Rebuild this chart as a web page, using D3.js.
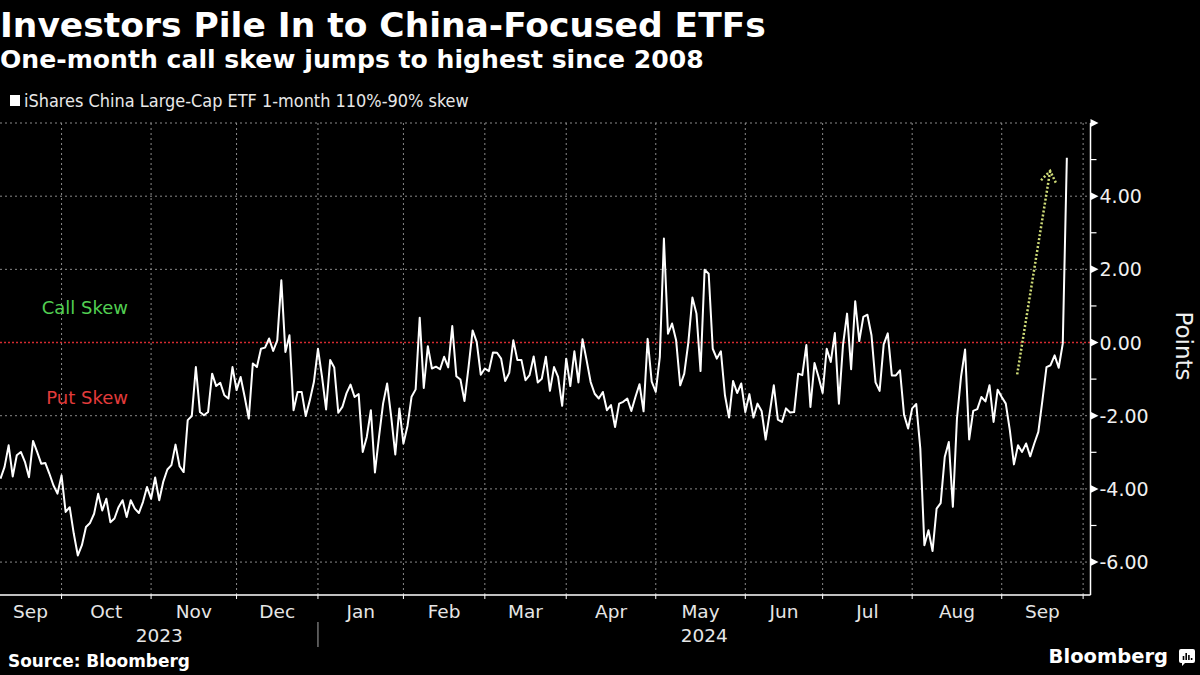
<!DOCTYPE html>
<html>
<head>
<meta charset="utf-8">
<script src="https://cdn.jsdelivr.net/npm/d3@7"></script>
<style>
  html, body { margin: 0; padding: 0; background: #000; }
  svg { display: block; }
</style>
</head>
<body>
<svg id="chart" width="1200" height="675"></svg>
<script>
// ---- Data (trading days from 2023-09-11 to 2024-09-25) ----
const skew = [
  -3.72,-3.40,-2.81,-3.66,-3.08,-2.99,-3.26,-3.68,-2.69,-2.99,
  -3.31,-3.29,-3.58,-3.90,-4.13,-3.63,-4.63,-4.50,-5.22,-5.82,
  -5.54,-5.04,-4.93,-4.68,-4.13,-4.59,-4.27,-4.91,-4.81,-4.50,
  -4.31,-4.77,-4.31,-4.54,-4.66,-4.36,-3.95,-4.27,-3.69,-4.31,
  -3.80,-3.47,-3.35,-2.79,-3.38,-3.54,-2.12,-2.01,-0.67,-1.90,
  -1.99,-1.90,-0.85,-1.19,-1.10,-1.44,-1.53,-0.67,-1.30,-0.94,
  -1.49,-2.08,-0.57,-0.67,-0.17,-0.14,0.11,-0.23,0.06,1.70,
  -0.26,0.20,-1.85,-1.35,-1.35,-2.01,-1.58,-1.08,-0.17,-0.94,
  -1.83,-0.48,-0.68,-1.92,-1.76,-1.39,-1.15,-1.49,-1.41,-2.99,
  -2.58,-1.85,-3.55,-2.58,-1.67,-1.12,-2.03,-3.06,-1.80,-2.76,
  -2.28,-1.48,-1.28,0.68,-1.24,-0.10,-0.71,-0.66,-0.73,-0.39,
  -0.68,0.45,-0.92,-1.01,-1.60,-0.67,0.33,0.02,-0.88,-0.71,
  -0.78,-0.27,-0.28,-0.44,-1.05,-0.83,0.06,-0.48,-0.48,-1.03,
  -0.89,-0.38,-1.09,-0.99,-0.39,-1.32,-0.67,-0.94,-1.73,-0.44,
  -1.19,-0.24,-1.09,0.09,-0.48,-1.08,-1.40,-1.53,-1.35,-1.85,
  -1.71,-2.31,-1.67,-1.62,-1.53,-1.87,-1.49,-1.14,-1.88,0.10,
  -1.07,-1.35,-0.39,2.84,0.24,0.52,0.06,-1.17,-0.85,0.00,
  1.23,0.79,-0.78,1.99,1.88,-0.17,-0.44,-0.24,-1.44,-2.05,
  -1.05,-1.38,-1.12,-1.90,-1.41,-2.05,-1.67,-1.87,-2.65,-1.92,
  -1.17,-2.11,-2.17,-1.80,-1.91,-1.90,-0.85,-0.89,-0.07,-1.76,
  -0.56,-0.94,-1.38,-0.17,-0.53,0.26,-1.67,-0.07,0.79,-0.73,
  1.13,0.04,0.70,0.76,0.20,-1.09,-1.32,-0.05,0.25,-0.90,
  -0.90,-0.76,-1.97,-2.35,-1.80,-1.68,-2.90,-5.54,-5.13,-5.70,
  -4.54,-4.39,-3.13,-2.72,-4.49,-2.08,-0.94,-0.19,-2.65,-1.87,
  -1.82,-1.49,-1.61,-1.17,-2.17,-1.29,-1.49,-1.67,-2.40,-3.33,
  -2.81,-2.99,-2.76,-3.11,-2.76,-2.44,-1.58,-0.67,-0.62,-0.35,
  -0.69,-0.03,5.05
];
const monthLabels = ["Sep","Oct","Nov","Dec","Jan","Feb","Mar","Apr","May","Jun","Jul","Aug","Sep"];
const tradingDaysPerMonth = [15,22,21,20,21,20,20,22,22,19,22,22,20];
const yearLabels = ["2023","2024"];
const monthsPerYear = [4, 9];
const yTickValues = [-6,-4,-2,0,2,4,6];
const yMinorValues = [-5,-3,-1,1,3,5];
const titleText = "Investors Pile In to China-Focused ETFs";
const subtitleText = "One-month call skew jumps to highest since 2008";
const legendText = "iShares China Large-Cap ETF 1-month 110%-90% skew";
const arrowFrom = {i: 249.8, v: -0.87};
const arrowTo = {i: 257.9, v: 4.69};

// ---- Layout ----
const svg = d3.select("#chart");
const plotLeft = 0, plotRight = 1090.5, plotTop = 123, plotBottom = 595;
const pxPerDay = 4.07;
const x = d3.scaleLinear().domain([0, (plotRight - 0.5) / pxPerDay]).range([0.5, plotRight]);
const y = d3.scaleLinear().domain([-6.9, 6]).range([plotBottom, plotTop]);

const monthStarts = d3.cumsum([0, ...tradingDaysPerMonth]);
const condensed = "'DejaVu Sans Condensed', 'DejaVu Sans', sans-serif";
const sans = "'DejaVu Sans', sans-serif";

// scale a text's font-size so it spans the target width
function fitWidth(sel, target) {
  const len = sel.node().getComputedTextLength();
  const fs = parseFloat(sel.attr("font-size"));
  if (len > 0) sel.attr("font-size", (fs * target / len).toFixed(2));
  return sel;
}

svg.append("rect").attr("width", 1200).attr("height", 675).attr("fill", "#000");

// Title & subtitle
fitWidth(svg.append("text").attr("x", 0).attr("y", 37).text(titleText)
  .attr("fill", "#fff").attr("font-family", sans).attr("font-weight", "bold").attr("font-size", 32), 766);
fitWidth(svg.append("text").attr("x", 0).attr("y", 68).text(subtitleText)
  .attr("fill", "#fff").attr("font-family", sans).attr("font-weight", "bold").attr("font-size", 24), 704);

// Legend
svg.append("rect").attr("x", 10).attr("y", 95).attr("width", 10).attr("height", 11).attr("fill", "#fff");
fitWidth(svg.append("text").attr("x", 24).attr("y", 106.5).text(legendText)
  .attr("fill", "#e8e8e8").attr("font-family", condensed).attr("font-size", 17), 445);

// Grid
const grid = svg.append("g");
grid.selectAll("line.h").data(yTickValues.filter(v => v !== 0)).join("line")
  .attr("x1", plotLeft).attr("x2", plotRight)
  .attr("y1", d => y(d)).attr("y2", d => y(d))
  .attr("stroke", "#8a8a8a").attr("stroke-width", 1).attr("stroke-dasharray", "2,3");
grid.selectAll("line.v").data(monthStarts.slice(1)).join("line")
  .attr("x1", d => x(d)).attr("x2", d => x(d))
  .attr("y1", plotTop).attr("y2", plotBottom)
  .attr("stroke", "#8a8a8a").attr("stroke-width", 1).attr("stroke-dasharray", "2,3");

// Zero line
svg.append("line").attr("x1", plotLeft).attr("x2", plotRight)
  .attr("y1", y(0)).attr("y2", y(0))
  .attr("stroke", "#d42a2f").attr("stroke-width", 1.6).attr("stroke-dasharray", "2,2");

// Call/Put annotations
svg.append("text").attr("x", 128).attr("y", y(0.94) + 6).attr("text-anchor", "end").text("Call Skew")
  .attr("fill", "#52cf52").attr("font-family", sans).attr("font-size", 18);
svg.append("text").attr("x", 128).attr("y", y(-1.5) + 7).attr("text-anchor", "end").text("Put Skew")
  .attr("fill", "#e23b3b").attr("font-family", sans).attr("font-size", 18);

// Series line
svg.append("path").datum(skew)
  .attr("d", d3.line().x((d, i) => x(i)).y(d => y(d)))
  .attr("fill", "none").attr("stroke", "#fff").attr("stroke-width", 2).attr("stroke-linejoin", "round");

// Annotation arrow
const ax1 = x(arrowFrom.i), ay1 = y(arrowFrom.v), ax2 = x(arrowTo.i), ay2 = y(arrowTo.v);
const ang = Math.atan2(ay1 - ay2, ax1 - ax2);
const headLen = 13, headAng = 35 * Math.PI / 180;
const arrowColor = "#cfdc78";
const arrowG = svg.append("g").attr("stroke", arrowColor).attr("stroke-width", 2.5)
  .attr("stroke-dasharray", "2,2").attr("fill", "none");
arrowG.append("line").attr("x1", ax1).attr("y1", ay1).attr("x2", ax2).attr("y2", ay2);
arrowG.append("path").attr("d",
  `M${ax2 + headLen * Math.cos(ang + headAng)},${ay2 + headLen * Math.sin(ang + headAng)}` +
  `L${ax2},${ay2}` +
  `L${ax2 + headLen * Math.cos(ang - headAng)},${ay2 + headLen * Math.sin(ang - headAng)}`);

// Right axis
svg.append("line").attr("x1", plotRight).attr("x2", plotRight).attr("y1", plotTop).attr("y2", plotBottom)
  .attr("stroke", "#fff").attr("stroke-width", 1.5);
svg.selectAll("path.ytick").data(yTickValues).join("path")
  .attr("d", d => `M${plotRight},${y(d) - 4}L${plotRight + 8},${y(d)}L${plotRight},${y(d) + 4}Z`)
  .attr("fill", "#fff");
svg.selectAll("line.yminor").data(yMinorValues).join("line")
  .attr("x1", plotRight).attr("x2", plotRight + 6).attr("y1", d => y(d)).attr("y2", d => y(d))
  .attr("stroke", "#fff").attr("stroke-width", 1.2);
svg.selectAll("text.ylab").data(yTickValues.filter(v => v < 6)).join("text")
  .attr("x", plotRight + 9).attr("y", d => y(d) + 7)
  .text(d => (d < 0 ? "-" : "") + d3.format(".2f")(Math.abs(d)))
  .attr("fill", "#f0f0f0").attr("font-family", sans).attr("font-size", 19);
svg.append("text").attr("transform", `translate(1176,${346}) rotate(90)`)
  .attr("text-anchor", "middle").text("Points")
  .attr("fill", "#f0f0f0").attr("font-family", sans).attr("font-size", 23);

// Bottom axis
svg.append("line").attr("x1", plotLeft).attr("x2", plotRight).attr("y1", plotBottom).attr("y2", plotBottom)
  .attr("stroke", "#fff").attr("stroke-width", 1.5);
svg.selectAll("line.xtick").data(monthStarts.slice(1)).join("line")
  .attr("x1", d => x(d)).attr("x2", d => x(d)).attr("y1", plotBottom).attr("y2", plotBottom + 4)
  .attr("stroke", "#fff").attr("stroke-width", 1);
svg.selectAll("text.mlab").data(monthLabels).join("text")
  .attr("x", (d, k) => (x(monthStarts[k]) + x(monthStarts[k + 1])) / 2 - (k === 0 ? 0.5 : 0))
  .attr("y", 618).attr("text-anchor", "middle").text(d => d)
  .attr("fill", "#e6e6e6").attr("font-family", sans).attr("font-size", 18.5);
const yearBounds = d3.cumsum([0, ...monthsPerYear]);
svg.selectAll("text.ylab2").data(yearLabels).join("text")
  .attr("x", (d, k) => {
    const a = x(monthStarts[yearBounds[k]]);
    const b = k === yearLabels.length - 1 ? plotRight : x(monthStarts[yearBounds[k + 1]]);
    return (Math.max(a, 0) + b) / 2;
  })
  .attr("y", 642).attr("text-anchor", "middle").text(d => d)
  .attr("fill", "#e6e6e6").attr("font-family", sans).attr("font-size", 18.5);
svg.selectAll("line.ysep").data(yearBounds.slice(1, -1)).join("line")
  .attr("x1", d => x(monthStarts[d])).attr("x2", d => x(monthStarts[d]))
  .attr("y1", 622).attr("y2", 647).attr("stroke", "#aaa").attr("stroke-width", 1);

// Footer
fitWidth(svg.append("text").attr("x", 8).attr("y", 667).text("Source: Bloomberg")
  .attr("fill", "#fff").attr("font-family", sans).attr("font-weight", "bold").attr("font-size", 16), 182);
svg.append("text").attr("x", 1168).attr("y", 663).attr("text-anchor", "end").text("Bloomberg")
  .attr("fill", "#fff").attr("font-family", sans).attr("font-weight", "bold").attr("font-size", 19.5);
const logo = svg.append("g").attr("transform", "translate(1179,649)");
logo.append("path").attr("d", "M2,0H14Q16,0 16,2V12Q16,14 14,14H6L3,17V14H2Q0,14 0,12V2Q0,0 2,0Z").attr("fill", "#fff");
[[4.5, 7], [7.2, 4], [9.9, 6], [12.6, 9]].forEach(([bx, by]) => {
  logo.append("rect").attr("x", bx - 0.8).attr("y", by).attr("width", 1.6).attr("height", 11 - by).attr("fill", "#000");
});
</script>
</body>
</html>
